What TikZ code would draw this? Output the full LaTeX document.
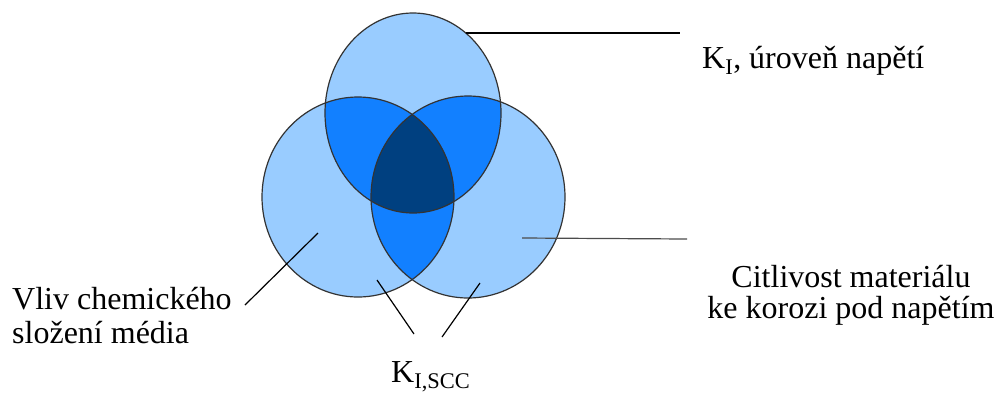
\documentclass[tikz,border=0pt]{standalone}
\usepackage{fontspec}
\setmainfont{Liberation Serif}
\newfontfamily\timesfont{Liberation Serif}
\usepackage{xcolor}

\definecolor{paleblue}{RGB}{153,204,255}
\definecolor{dotblue}{RGB}{18,128,255}
\definecolor{navyblue}{RGB}{0,64,128}

\begin{document}
\begin{tikzpicture}[x=1pt,y=-1pt,every node/.style={font=\timesfont\fontsize{32}{31}\selectfont,inner sep=0pt}]
\useasboundingbox (0,0) rectangle (996,392);
\def\circA{(413,113) ellipse [x radius=88pt, y radius=100pt]}
\def\circB{(358,197) ellipse [x radius=96pt, y radius=100pt]}
\def\circC{(468,197) ellipse [x radius=97pt, y radius=101pt]}
% circles
\fill[paleblue] \circA;
\fill[paleblue] \circB;
\fill[paleblue] \circC;
\begin{scope}
\clip \circA;
\fill[dotblue] \circB;
\fill[dotblue] \circC;
\end{scope}
\begin{scope}
\clip \circB;
\fill[dotblue] \circC;
\end{scope}
\begin{scope}
\clip \circA;
\clip \circB;
\fill[navyblue] \circC;
\end{scope}
\draw[black!80,line width=1.2pt] \circA;
\draw[black!80,line width=1.2pt] \circB;
\draw[black!80,line width=1.2pt] \circC;
% labels
\node[anchor=base west] (napeti) at (702,68) {K\textsubscript{I}, úroveň napětí};
\node[anchor=base,align=center] (citlivost) at (851,318) {Citlivost materiálu\\ke korozi pod napětím};
\node[anchor=base west,align=left,font=\timesfont\fontsize{32}{34}\selectfont] (vliv) at (12,343) {Vliv chemického\\složení média};
\node[anchor=base west] (kscc) at (391,382) {K\textsubscript{I,SCC}};
% leader lines
\coordinate (a1) at (466,33);  \coordinate (a2) at (680,33);
\coordinate (b1) at (522,238); \coordinate (b2) at (687,239);
\coordinate (c1) at (318,233); \coordinate (c2) at (245,305);
\coordinate (d1) at (377,280); \coordinate (d2) at (414,334);
\coordinate (e1) at (480,283); \coordinate (e2) at (442,337);
\draw[line width=1.2pt] (a1) -- (a2);
\draw[black!70,line width=1.2pt] (b1) -- (b2);
\draw[line width=1.2pt] (c1) -- (c2);
\draw[line width=1.2pt] (d1) -- (d2);
\draw[line width=1.2pt] (e1) -- (e2);
\end{tikzpicture}
\end{document}
